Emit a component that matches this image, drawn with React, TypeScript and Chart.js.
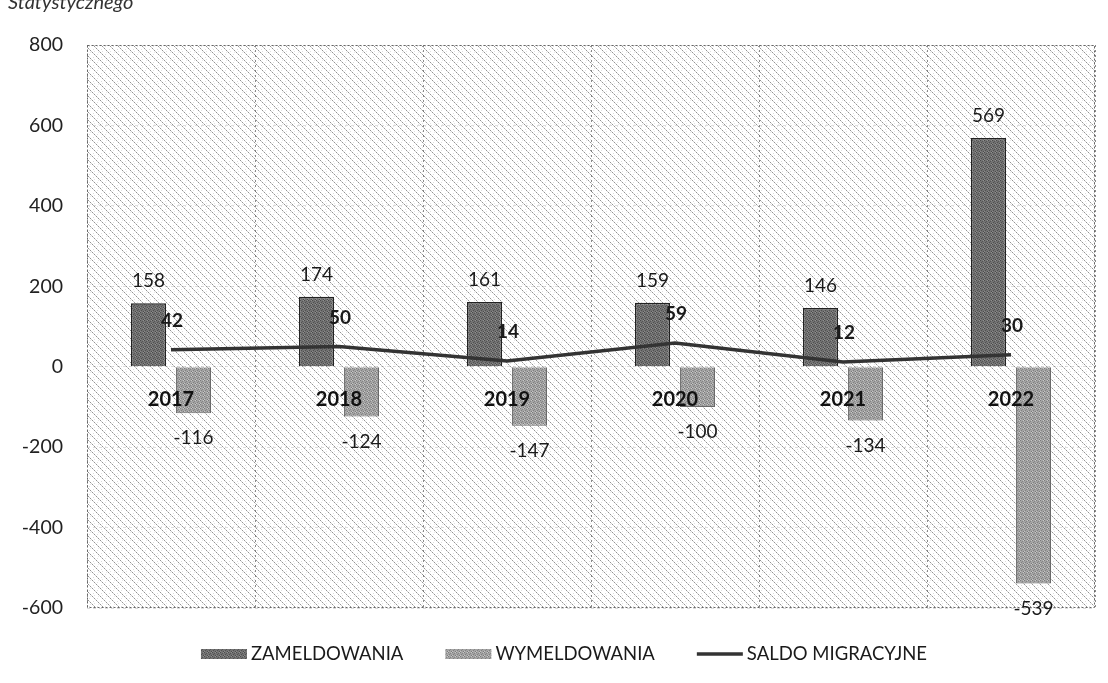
import React, { useEffect, useRef } from 'react';
import { Chart, registerables } from 'chart.js';

Chart.register(...registerables);

const categories = ['2017', '2018', '2019', '2020', '2021', '2022'];
const zameldowania = [158, 174, 161, 159, 146, 569];
const wymeldowania = [-116, -124, -147, -100, -134, -539];
const saldoMigracyjne = [42, 50, 14, 59, 12, 30];
const seriesNames = ['ZAMELDOWANIA', 'WYMELDOWANIA', 'SALDO MIGRACYJNE'];
const yMin = -600;
const yMax = 800;
const yStep = 200;

const FONT = 'Lato, "Open Sans", sans-serif';

function makePattern(size: number, base: string | null, dots: [number, number, string][]) {
  const c = document.createElement('canvas');
  c.width = size;
  c.height = size;
  const g = c.getContext('2d')!;
  if (base) {
    g.fillStyle = base;
    g.fillRect(0, 0, size, size);
  }
  for (const [x, y, col] of dots) {
    g.fillStyle = col;
    g.fillRect(x, y, 1, 1);
  }
  return g.createPattern(c, 'repeat')!;
}

export default function App() {
  const ref = useRef<HTMLCanvasElement | null>(null);

  useEffect(() => {
    const canvas = ref.current!;
    const bgDots: [number, number, string][] = [];
    for (let i = 0; i < 8; i++) bgDots.push([i, i, i % 2 === 0 ? '#949494' : '#cccccc']);
    bgDots.push([5, 1, '#dcdcdc'], [1, 6, '#e0e0e0'], [6, 3, '#e2e2e2'], [2, 4, '#e8e8e8']);
    const bgPattern = makePattern(8, null, bgDots);

    const zamDots: [number, number, string][] = [
      [0, 0, '#4a4a4a'], [2, 1, '#555555'], [1, 2, '#505050'], [3, 3, '#4c4c4c'], [0, 3, '#8a8a8a'], [3, 0, '#909090'],
    ];
    const zamPattern = makePattern(4, '#727272', zamDots);
    const wymDots: [number, number, string][] = [
      [0, 0, '#7c7c7c'], [2, 1, '#858585'], [1, 2, '#808080'], [3, 3, '#7a7a7a'], [0, 3, '#c4c4c4'], [3, 0, '#c8c8c8'],
    ];
    const wymPattern = makePattern(4, '#a4a4a4', wymDots);

    const bgPlugin = {
      id: 'bgPlugin',
      beforeDraw(chart: any) {
        const { ctx, chartArea: a } = chart;
        ctx.save();
        ctx.fillStyle = '#ffffff';
        ctx.fillRect(0, 0, chart.width, chart.height);
        ctx.fillStyle = bgPattern;
        ctx.fillRect(a.left, a.top, a.right - a.left, a.bottom - a.top);
        ctx.restore();
      },
      beforeDatasetsDraw(chart: any) {
        const { ctx, chartArea: a } = chart;
        ctx.save();
        ctx.strokeStyle = '#666666';
        ctx.lineWidth = 1;
        ctx.setLineDash([2, 2]);
        ctx.strokeRect(a.left + 0.5, a.top + 0.5, a.right - a.left - 1, a.bottom - a.top - 1);
        ctx.restore();
      },
    };

    const labelPlugin = {
      id: 'labelPlugin',
      afterDatasetsDraw(chart: any) {
        const { ctx } = chart;
        ctx.save();
        ctx.textAlign = 'center';
        ctx.textBaseline = 'middle';
        ctx.fillStyle = '#1a1a1a';
        ctx.font = '19px ' + FONT;
        [0, 1].forEach((di) => {
          const meta = chart.getDatasetMeta(di);
          const vals = chart.data.datasets[di].data as number[];
          meta.data.forEach((el: any, i: number) => {
            const v = vals[i];
            const y = v >= 0 ? el.y - 22 : el.y + 25;
            ctx.fillText(String(v), el.x, y);
          });
        });
        ctx.font = 'bold 19px ' + FONT;
        const meta = chart.getDatasetMeta(2);
        meta.data.forEach((el: any, i: number) => {
          ctx.fillText(String(saldoMigracyjne[i]), el.x + 1, el.y - 29);
        });
        // category labels drawn at the zero line, on top of the bars
        const xs = chart.scales.x;
        const zeroY = chart.scales.y.getPixelForValue(0);
        ctx.font = 'bold 20px ' + FONT;
        ctx.fillStyle = '#111111';
        categories.forEach((c, i) => {
          ctx.fillText(c, xs.getPixelForValue(i), zeroY + 33);
        });
        ctx.restore();
      },
    };

    const legendPlugin = {
      id: 'customLegend',
      afterDraw(chart: any) {
        const { ctx } = chart;
        ctx.save();
        ctx.font = '18.5px ' + FONT;
        ctx.textBaseline = 'middle';
        ctx.textAlign = 'left';
        const sampleW = 46;
        const sGap = 4;
        const iGap = 42;
        const widths = seriesNames.map((n) => ctx.measureText(n).width);
        const total = widths.reduce((s, w) => s + w + sampleW + sGap, 0) + iGap * (seriesNames.length - 1);
        let x = 564 - total / 2;
        const y = 654;
        seriesNames.forEach((n, i) => {
          if (i === 0 || i === 1) {
            ctx.fillStyle = i === 0 ? zamPattern : wymPattern;
            ctx.fillRect(x, y - 5, sampleW, 10);
          } else {
            ctx.strokeStyle = '#333333';
            ctx.lineWidth = 3.5;
            ctx.beginPath();
            ctx.moveTo(x, y);
            ctx.lineTo(x + sampleW, y);
            ctx.stroke();
          }
          x += sampleW + sGap;
          ctx.fillStyle = '#1a1a1a';
          ctx.fillText(n, x, y);
          x += widths[i] + iGap;
        });
        ctx.restore();
      },
    };

    const chart = new Chart(canvas, {
      type: 'bar',
      data: {
        labels: categories,
        datasets: [
          {
            type: 'bar',
            label: seriesNames[0],
            data: zameldowania,
            backgroundColor: zamPattern as any,
            borderColor: '#222222',
            borderWidth: 1.5,
            categoryPercentage: 0.535,
            barPercentage: 0.78,
            order: 1,
          },
          {
            type: 'bar',
            label: seriesNames[1],
            data: wymeldowania,
            backgroundColor: wymPattern as any,
            borderColor: '#6a6a6a',
            borderWidth: 1,
            categoryPercentage: 0.535,
            barPercentage: 0.78,
            order: 1,
          },
          {
            type: 'line',
            label: seriesNames[2],
            data: saldoMigracyjne,
            borderColor: '#333333',
            borderWidth: 3.5,
            pointRadius: 0,
            tension: 0,
            fill: false,
            order: 0,
          } as any,
        ],
      },
      options: {
        responsive: false,
        animation: false,
        layout: { padding: { left: 0, right: 13, top: 45, bottom: 75 } },
        plugins: {
          legend: { display: false },
          tooltip: { enabled: false },
          title: { display: false },
        },
        scales: {
          x: {
            type: 'category',
            position: { y: 0 } as any,
            offset: true,
            grid: { offset: true, color: 'rgba(60,60,60,0.6)', lineWidth: 1, drawTicks: false },
            border: { display: false, dash: [2, 3] },
            ticks: { display: false },
          },
          y: {
            min: yMin,
            max: yMax,
            afterFit: (scale: any) => {
              scale.width = 87;
            },
            grid: { color: 'rgba(140,140,140,0.3)', lineWidth: 1, drawTicks: false },
            border: { display: false, dash: [3, 3] },
            ticks: {
              stepSize: yStep,
              font: { family: FONT, size: 19.5 },
              color: '#222222',
              padding: 24,
            },
          },
        },
      },
      plugins: [bgPlugin, labelPlugin, legendPlugin],
    });
    return () => chart.destroy();
  }, []);

  return (
    <div style={{ position: 'absolute', left: 0, top: 0, width: 1108, height: 683, overflow: 'hidden', background: '#fff' }}>
      <div
        style={{
          position: 'absolute',
          left: 9,
          top: 16,
          width: 1120,
          height: 700,
          borderLeft: '1px dotted #8a8a8a',
          borderTop: '1px dotted #8a8a8a',
        }}
      />
      <canvas ref={ref} width={1108} height={683} style={{ position: 'absolute', left: 0, top: 0 }} />
      <div
        style={{
          position: 'absolute',
          left: 8,
          top: -11,
          fontFamily: FONT,
          fontStyle: 'italic',
          fontSize: 20,
          color: '#333',
          whiteSpace: 'nowrap',
        }}
      >
        Statystycznego
      </div>
    </div>
  );
}
